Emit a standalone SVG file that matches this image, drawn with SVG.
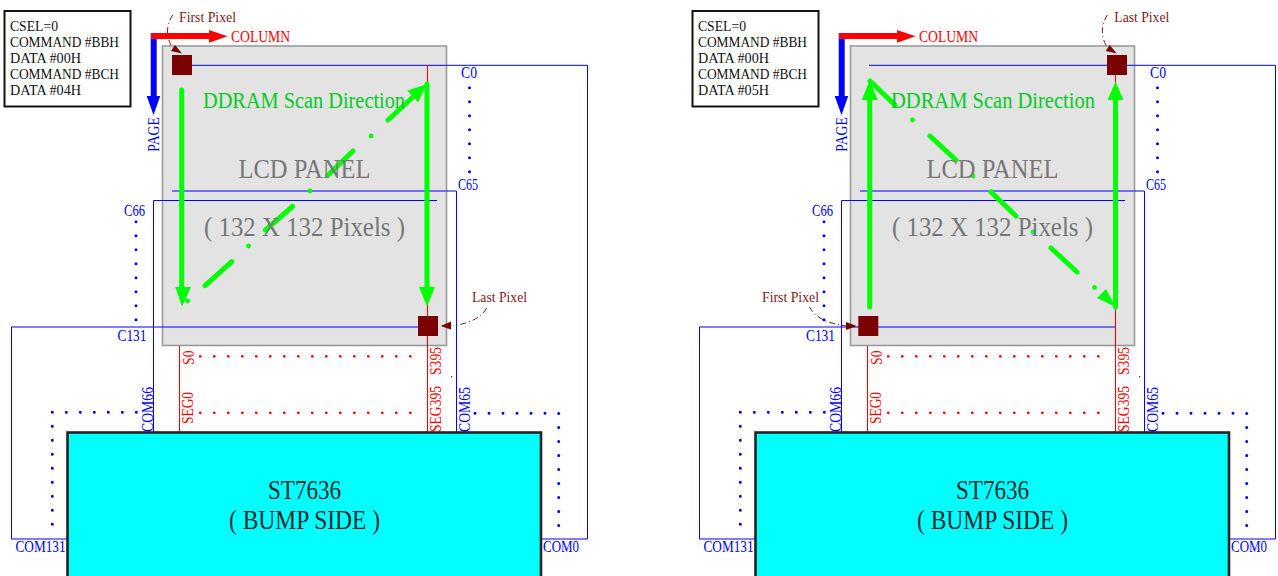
<svg xmlns="http://www.w3.org/2000/svg" width="1278" height="576" viewBox="0 0 1278 576">
<style>
text{font-family:"Liberation Serif","Times New Roman",serif;lengthAdjust:spacingAndGlyphs}
.info{font-size:15.5px;fill:#111}
.b{font-size:16px;fill:#0000ff}
.r{font-size:16px;fill:#ff0000}
.dk{font-size:15.5px;fill:#7d1a1a}
.gr{font-size:23px;fill:#00cc22}
.lcd{font-size:27.5px;fill:#777}
.px{font-size:27.5px;fill:#777}
.chip{font-size:28px;fill:#06282c}
.box{fill:#fff;stroke:#111;stroke-width:2}
.panel{fill:#e3e3e3;stroke:#999;stroke-width:1.6}
.ic{fill:#00ffff;stroke:#222;stroke-width:2.6}
.sq{fill:#7a0000}
.wb{fill:none;stroke:#0000ff;stroke-width:1}
.wr{fill:none;stroke:#ff0000;stroke-width:1.1}
.bd{fill:none;stroke:#0000ff;stroke-width:3;stroke-linecap:round;stroke-dasharray:0 14}
.rd{fill:none;stroke:#ff0000;stroke-width:2.8;stroke-linecap:round;stroke-dasharray:0 14}
.g{fill:none;stroke:#00ff00;stroke-width:5;stroke-linecap:round}
.gh{fill:#00ff00}
.gd{fill:#00ff00}
.call{fill:none;stroke:#7d1a1a;stroke-width:1;stroke-dasharray:6 3 1 3}
.ch{fill:#7a0000}
.ar{fill:none;stroke-width:6}
</style>

<g id="panel-a-lcd"><rect class="panel" x="162.5" y="46" width="284" height="299.5"/></g>
<g id="panel-b-lcd"><rect class="panel" x="850.5" y="46" width="284" height="299.5"/></g>

<g id="connectors">
  <g id="wires-a">
    <path class="wb" d="M181 65.3H587.5V539H541"/>
    <path class="wb" d="M172 191H456.5V432"/>
    <path class="wb" d="M437 200.5H153.5V432"/>
    <path class="wb" d="M428 327H11.5V539H68"/>
    <path class="wr" d="M427.5 65V432"/>
    <path class="wr" d="M179.5 346V432"/>
    <path class="bd" d="M469.5 87.7V172"/>
    <path class="bd" d="M136 221.7V320"/>
    <path class="bd" d="M136.3 412.3H52.3V525"/>
    <path class="bd" d="M475 413.3H558.7V526"/>
    <path class="rd" d="M200.3 356.3H411"/>
    <path class="rd" d="M200.3 412.8H411"/>
    <circle cx="451.7" cy="376.7" r="0.7" fill="#333"/>
  </g>
  <g id="wires-b">
    <path class="wb" d="M869 65.3H1275.5V539H1229"/>
    <path class="wb" d="M860 191H1144.5V432"/>
    <path class="wb" d="M1125 200.5H841.5V432"/>
    <path class="wb" d="M1116 327H699.5V539H756"/>
    <path class="wr" d="M1115.5 65V432"/>
    <path class="wr" d="M867.5 346V432"/>
    <path class="bd" d="M1157.5 87.7V172"/>
    <path class="bd" d="M824 221.7V320"/>
    <path class="bd" d="M824.3 412.3H740.3V525"/>
    <path class="bd" d="M1163 413.3H1246.7V526"/>
    <path class="rd" d="M888.3 356.3H1099"/>
    <path class="rd" d="M888.3 412.8H1099"/>
    <circle cx="1139.7" cy="376.7" r="0.7" fill="#333"/>
  </g>
  <g id="axes-a">
    <path d="M153.7 33V98" stroke="#0000ff" class="ar"/>
    <polygon points="146.7,96 160.2,96 153.5,115" fill="#0000ff"/>
    <path d="M151 36H211" stroke="#ff0000" class="ar"/>
    <polygon points="209,30 209,42.7 227.5,36.3" fill="#ff0000"/>
  </g>
  <g id="axes-b">
    <path d="M841.7 33V98" stroke="#0000ff" class="ar"/>
    <polygon points="834.7,96 848.2,96 841.5,115" fill="#0000ff"/>
    <path d="M839 36H899" stroke="#ff0000" class="ar"/>
    <polygon points="897,30 897,42.7 915.5,36.3" fill="#ff0000"/>
  </g>
  <g id="scan-a">
    <path class="g" d="M181.7 90V290"/>
    <polygon class="gh" points="175.3,287 191,287 182,306.5"/>
    <path class="g" d="M427 84V290"/>
    <polygon class="gh" points="419,287 435,287 427,306.5"/>
    <path class="g" d="M205 285.7L231.7 261.7M265.5 230L292.5 206.5M328 175L353 151M388 120L414 96"/>
    <polygon class="gh" points="427,84 407.4,90.5 418,102.5"/>
    <circle class="gd" cx="187.5" cy="301" r="2.4"/>
    <circle class="gd" cx="248.5" cy="246" r="2.4"/>
    <circle class="gd" cx="310" cy="191" r="2.4"/>
    <circle class="gd" cx="371" cy="136" r="2.4"/>
  </g>
  <g id="scan-b">
    <path class="g" d="M869.7 307V96"/>
    <polygon class="gh" points="861.7,100 877.7,100 869.7,80.5"/>
    <path class="g" d="M1115.5 307V96"/>
    <polygon class="gh" points="1107.5,100 1123.5,100 1115.5,81.5"/>
    <path class="g" d="M870 81L895 105M930 136L956 160M991 192L1016 216M1051 248L1077 272"/>
    <polygon class="gh" points="1115.5,307 1097,298 1106,289"/>
    <circle class="gd" cx="912.5" cy="120" r="2.4"/>
    <circle class="gd" cx="973" cy="176" r="2.4"/>
    <circle class="gd" cx="1033" cy="232" r="2.4"/>
    <circle class="gd" cx="1094.5" cy="287.5" r="2.4"/>
  </g>
  <g id="callouts">
    <path class="call" d="M172.7 15C165 27 166 40 174 49"/>
    <polygon class="ch" points="182,53.5 171,51 175,45"/>
    <path class="call" d="M486.7 308C481 318 470 323 453 326"/>
    <polygon class="ch" points="440.7,326 451,321.5 451,329.5"/>
    <path class="call" d="M1107.3 15C1100 27 1101 40 1109 49"/>
    <polygon class="ch" points="1116.7,53.5 1105.7,51 1109.7,45"/>
    <path class="call" d="M809.3 306.7C816 318 826 323 846 326"/>
    <polygon class="ch" points="856.7,326 846,322 846,330"/>
  </g>
</g>

<g id="first-pixel-a"><rect class="sq" x="172" y="55" width="20" height="20"/><text class="dk" x="179" y="22" textLength="57" lengthAdjust="spacingAndGlyphs">First Pixel</text></g>
<g id="last-pixel-a"><rect class="sq" x="418" y="316" width="20" height="20"/><text class="dk" x="472" y="302" textLength="55" lengthAdjust="spacingAndGlyphs">Last Pixel</text></g>
<g id="last-pixel-b"><rect class="sq" x="1107" y="55" width="20" height="20"/><text class="dk" x="1114.3" y="22" textLength="55" lengthAdjust="spacingAndGlyphs">Last Pixel</text></g>
<g id="first-pixel-b"><rect class="sq" x="858.3" y="316" width="20" height="20"/><text class="dk" x="762" y="302" textLength="57" lengthAdjust="spacingAndGlyphs">First Pixel</text></g>

<g id="info-a">
  <rect class="box" x="4.5" y="11" width="126" height="95.5"/>
  <text class="info" x="10" y="31" textLength="48" lengthAdjust="spacingAndGlyphs">CSEL=0</text>
  <text class="info" x="10" y="47" textLength="109" lengthAdjust="spacingAndGlyphs">COMMAND #BBH</text>
  <text class="info" x="10" y="63" textLength="71" lengthAdjust="spacingAndGlyphs">DATA #00H</text>
  <text class="info" x="10" y="79" textLength="109" lengthAdjust="spacingAndGlyphs">COMMAND #BCH</text>
  <text class="info" x="10" y="95" textLength="71" lengthAdjust="spacingAndGlyphs">DATA #04H</text>
</g>
<g id="info-b">
  <rect class="box" x="692.5" y="11" width="126" height="95.5"/>
  <text class="info" x="698" y="31" textLength="48" lengthAdjust="spacingAndGlyphs">CSEL=0</text>
  <text class="info" x="698" y="47" textLength="109" lengthAdjust="spacingAndGlyphs">COMMAND #BBH</text>
  <text class="info" x="698" y="63" textLength="71" lengthAdjust="spacingAndGlyphs">DATA #00H</text>
  <text class="info" x="698" y="79" textLength="109" lengthAdjust="spacingAndGlyphs">COMMAND #BCH</text>
  <text class="info" x="698" y="95" textLength="71" lengthAdjust="spacingAndGlyphs">DATA #05H</text>
</g>

<g id="panel-a-text">
  <text class="gr" x="203" y="107.7" textLength="202" lengthAdjust="spacingAndGlyphs">DDRAM Scan Direction</text>
  <text class="lcd" x="238.5" y="177.5" textLength="132" lengthAdjust="spacingAndGlyphs">LCD PANEL</text>
  <text class="px" x="204" y="235.5" textLength="201" lengthAdjust="spacingAndGlyphs">( 132 X 132 Pixels )</text>
</g>
<g id="panel-b-text">
  <text class="gr" x="891" y="107.7" textLength="204" lengthAdjust="spacingAndGlyphs">DDRAM Scan Direction</text>
  <text class="lcd" x="926.5" y="177.5" textLength="132" lengthAdjust="spacingAndGlyphs">LCD PANEL</text>
  <text class="px" x="892" y="235.5" textLength="201" lengthAdjust="spacingAndGlyphs">( 132 X 132 Pixels )</text>
</g>

<g id="labels-a">
  <text class="r" x="231" y="41.5" textLength="59" lengthAdjust="spacingAndGlyphs">COLUMN</text>
  <text class="b" transform="translate(159 151.7) rotate(-90)" textLength="34.5" lengthAdjust="spacingAndGlyphs">PAGE</text>
  <text class="b" x="461" y="77.5" textLength="16" lengthAdjust="spacingAndGlyphs">C0</text>
  <text class="b" x="458" y="190" textLength="20" lengthAdjust="spacingAndGlyphs">C65</text>
  <text class="b" x="124" y="216" textLength="21" lengthAdjust="spacingAndGlyphs">C66</text>
  <text class="b" x="117.5" y="341" textLength="29" lengthAdjust="spacingAndGlyphs">C131</text>
  <text class="b" x="15.5" y="552" textLength="50" lengthAdjust="spacingAndGlyphs">COM131</text>
  <text class="b" x="543" y="552" textLength="36" lengthAdjust="spacingAndGlyphs">COM0</text>
  <text class="b" transform="translate(152.5 432) rotate(-90)" textLength="45" lengthAdjust="spacingAndGlyphs">COM66</text>
  <text class="b" transform="translate(470 432) rotate(-90)" textLength="45" lengthAdjust="spacingAndGlyphs">COM65</text>
  <text class="r" transform="translate(192.5 424) rotate(-90)" textLength="32" lengthAdjust="spacingAndGlyphs">SEG0</text>
  <text class="r" transform="translate(193.5 365) rotate(-90)" textLength="14.5" lengthAdjust="spacingAndGlyphs">S0</text>
  <text class="r" transform="translate(440.5 432) rotate(-90)" textLength="46" lengthAdjust="spacingAndGlyphs">SEG395</text>
  <text class="r" transform="translate(441 375) rotate(-90)" textLength="28" lengthAdjust="spacingAndGlyphs">S395</text>
</g>
<g id="labels-b">
  <text class="r" x="919" y="41.5" textLength="59" lengthAdjust="spacingAndGlyphs">COLUMN</text>
  <text class="b" transform="translate(847 151.7) rotate(-90)" textLength="34.5" lengthAdjust="spacingAndGlyphs">PAGE</text>
  <text class="b" x="1150" y="77.5" textLength="16" lengthAdjust="spacingAndGlyphs">C0</text>
  <text class="b" x="1146" y="190" textLength="20" lengthAdjust="spacingAndGlyphs">C65</text>
  <text class="b" x="812" y="216" textLength="21" lengthAdjust="spacingAndGlyphs">C66</text>
  <text class="b" x="806" y="341" textLength="29" lengthAdjust="spacingAndGlyphs">C131</text>
  <text class="b" x="703.5" y="552" textLength="50" lengthAdjust="spacingAndGlyphs">COM131</text>
  <text class="b" x="1231" y="552" textLength="36" lengthAdjust="spacingAndGlyphs">COM0</text>
  <text class="b" transform="translate(840.5 432) rotate(-90)" textLength="45" lengthAdjust="spacingAndGlyphs">COM66</text>
  <text class="b" transform="translate(1158 432) rotate(-90)" textLength="45" lengthAdjust="spacingAndGlyphs">COM65</text>
  <text class="r" transform="translate(880.5 424) rotate(-90)" textLength="32" lengthAdjust="spacingAndGlyphs">SEG0</text>
  <text class="r" transform="translate(881.5 365) rotate(-90)" textLength="14.5" lengthAdjust="spacingAndGlyphs">S0</text>
  <text class="r" transform="translate(1128.5 432) rotate(-90)" textLength="46" lengthAdjust="spacingAndGlyphs">SEG395</text>
  <text class="r" transform="translate(1129 375) rotate(-90)" textLength="28" lengthAdjust="spacingAndGlyphs">S395</text>
</g>

<g id="chip-a">
  <rect class="ic" x="67.5" y="432.5" width="473.5" height="170"/>
  <text class="chip" x="268" y="499" textLength="73" lengthAdjust="spacingAndGlyphs">ST7636</text>
  <text class="chip" x="229" y="529" textLength="151" lengthAdjust="spacingAndGlyphs">( BUMP SIDE )</text>
</g>
<g id="chip-b">
  <rect class="ic" x="755.5" y="432.5" width="473.5" height="170"/>
  <text class="chip" x="956" y="499" textLength="73" lengthAdjust="spacingAndGlyphs">ST7636</text>
  <text class="chip" x="917" y="529" textLength="151" lengthAdjust="spacingAndGlyphs">( BUMP SIDE )</text>
</g>
</svg>
